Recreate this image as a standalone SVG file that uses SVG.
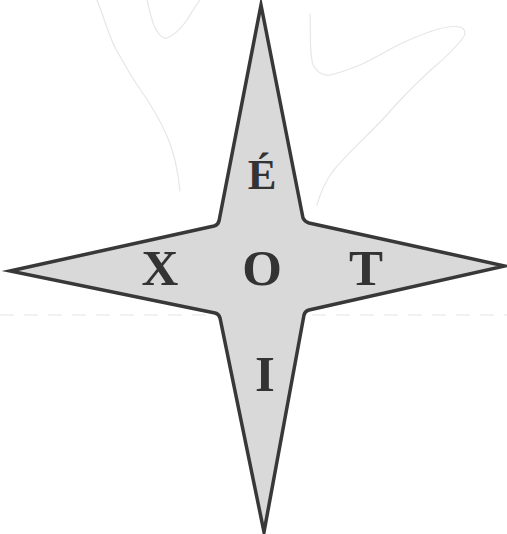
<svg xmlns="http://www.w3.org/2000/svg" width="507" height="534" viewBox="0 0 507 534">
<style>
.bg{fill:#ffffff}
.faint{fill:none;stroke:#e6e6e6;stroke-width:1.2;stroke-linecap:round;stroke-linejoin:round}
.dash{fill:none;stroke:#eeeeee;stroke-width:1.5;stroke-dasharray:14 10}
.star{fill:#d9d9d9;stroke:#383838;stroke-width:3.5;stroke-linejoin:miter;stroke-miterlimit:20}
.lt{font-family:"Liberation Serif","Times New Roman",serif;font-weight:bold;fill:#333333;text-anchor:middle}
</style>
<rect class="bg" x="0" y="0" width="507" height="534"/>
<g id="background-marks">
<path class="faint" d="M97,0 C105,20 110,40 117,51 C125,65 132,78 140,89 C152,106 160,120 167,136 C174,152 178,170 180,191"/>
<path class="faint" d="M147,0 C150,12 152,25 157,31 C160,36 163,39 167,38 C175,35 182,27 187,20 C192,12 196,5 200,0"/>
<path class="faint" d="M310,14 C311,30 309,52 313,65 C317,72 323,76 330,75 C340,73 350,69 360,65 C375,58 388,50 400,44 C420,35 445,24 460,27 C466,29 466,34 463,38 C455,48 445,58 433,68 C415,84 398,102 383,119 C366,137 348,153 333,171 C325,182 320,194 317,205"/>
<path class="dash" d="M0,315 L507,315"/>
</g>
<g id="star">
<path class="star" d="M261,5 L303,218 Q305,222 309,223 L505,266 L309,310 Q305,311 304,315 L264,532 L220,318 Q219,314 215,313 L10,271 L214,226 Q218,225 219,221 Z"/>
</g>
<g id="label-top"><text class="lt" x="262" y="189" font-size="43">É</text></g>
<g id="label-left"><text class="lt" x="160" y="285" font-size="51">X</text></g>
<g id="label-center"><text class="lt" x="262" y="285" font-size="51">O</text></g>
<g id="label-right"><text class="lt" x="366" y="285" font-size="51">T</text></g>
<g id="label-bottom"><text class="lt" x="265" y="391" font-size="51">I</text></g>
</svg>
